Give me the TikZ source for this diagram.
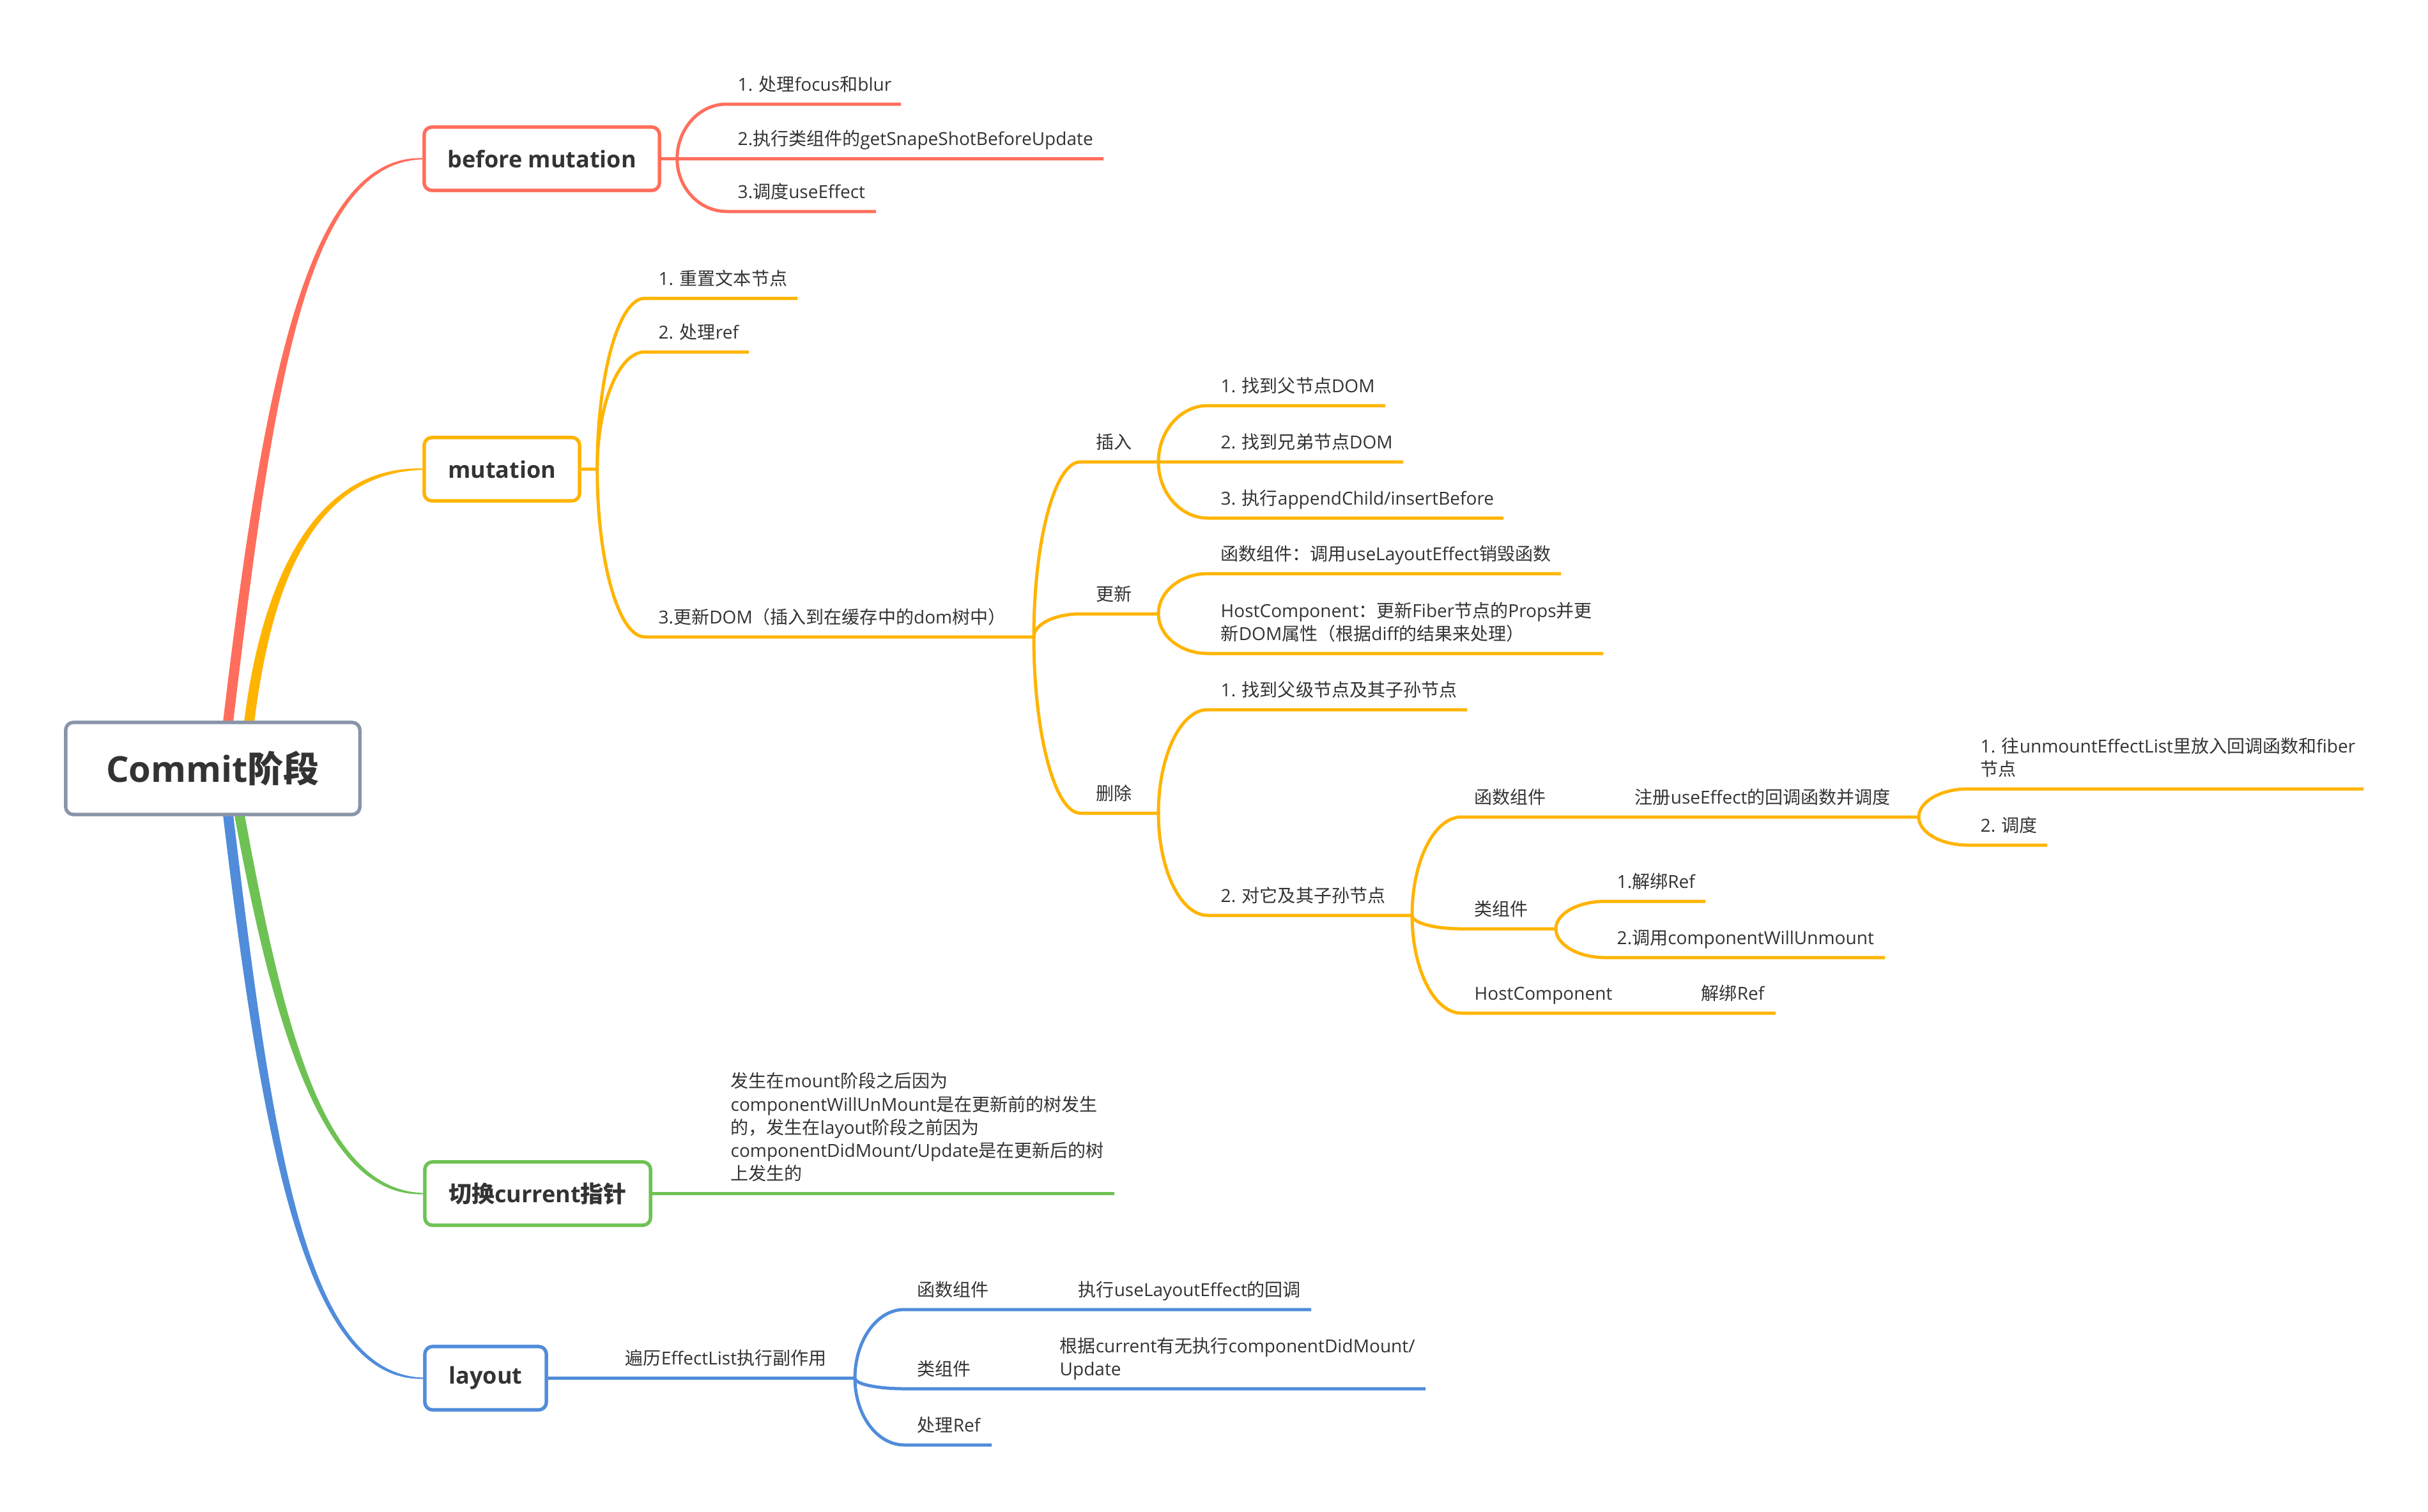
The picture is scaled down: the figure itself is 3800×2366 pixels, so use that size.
\documentclass[tikz,border=0pt]{standalone}
\usepackage{fontspec}
\setmainfont{Open Sans}
\newfontfamily\cjk{Noto Sans CJK SC}
\usetikzlibrary{calc}
\definecolor{cred}{RGB}{255,110,92}
\definecolor{corg}{RGB}{255,180,0}
\definecolor{cgrn}{RGB}{110,194,84}
\definecolor{cblu}{RGB}{80,140,218}
\definecolor{cgry}{RGB}{136,148,168}
\definecolor{ctxt}{RGB}{51,51,51}
\newcommand\z[1]{{\cjk #1}}
\tikzset{
  lbl/.style={anchor=base west, inner sep=0pt, text=ctxt, font=\fontsize{7.97pt}{10.24pt}\selectfont},
  mbox/.style={draw, line width=1.5pt, rounded corners=0.12cm, fill=white, minimum height=0.99cm, inner sep=0pt, text=ctxt, font=\fontsize{10.24pt}{12pt}\selectfont\bfseries},
  br/.style={line width=1.42pt}
}
% branch: color, fork, left end of underline, right end of underline
\newcommand\brch[4]{\draw[br,#1] (#2) .. controls ($(#2)!0.55!(#2|-#3)$) and ($(#3)!0.55!(#2|-#3)$) .. (#3) -- (#4);}
% tapered main connectors: color, start, c1, c2, end
\newcommand\taperup[5]{\fill[#1] ($(#2)+(-8,0)$) .. controls ($(#3)+(-8,0)$) and ($(#4)+(0,-6)$) .. ($(#5)+(0,-1)$) -- ($(#5)+(0,1)$) .. controls ($(#4)+(0,6)$) and ($(#3)+(8,0)$) .. ($(#2)+(8,0)$) -- cycle;}
\newcommand\taperdown[5]{\fill[#1] ($(#2)+(-8,0)$) .. controls ($(#3)+(-8,0)$) and ($(#4)+(0,6)$) .. ($(#5)+(0,1)$) -- ($(#5)+(0,-1)$) .. controls ($(#4)+(0,-6)$) and ($(#3)+(8,0)$) .. ($(#2)+(8,0)$) -- cycle;}
\begin{document}
\begin{tikzpicture}[x=0.01cm,y=-0.01cm]
\useasboundingbox (0,0) rectangle (3800,2366);
\fill[white] (0,0) rectangle (3800,2366);

% level-1 box positions (defined first for anchors)
\path (333,1203) node[mbox, draw=cgry, minimum width=4.6cm, minimum height=1.44cm, font=\fontsize{15.93pt}{18pt}\selectfont\bfseries] (commit) {Commit\z{阶段}};
\path (848,248.5) node[mbox, draw=cred, minimum width=3.68cm] (bm) {before mutation};
\path (785.5,734.5) node[mbox, draw=corg, minimum width=2.43cm] (mut) {mutation};
\path (841.5,1868.5) node[mbox, draw=cgrn, minimum width=3.53cm] (sw) {\z{切换}current\z{指针}};
\path (760,2157.5) node[mbox, draw=cblu, minimum width=1.90cm] (lay) {layout};

% main tapered connectors
\coordinate (r0) at ($(commit.north west)+(257,0)$);
\coordinate (o0) at ($(commit.north west)+(290,0)$);
\coordinate (g0) at ($(commit.south west)+(275,0)$);
\coordinate (b0) at ($(commit.south west)+(257,0)$);
\coordinate (r1) at (420,600);  \coordinate (r2) at (480,248.5);
\coordinate (o1) at (420,893);  \coordinate (o2) at (500,734.5);
\coordinate (g1) at (440,1630); \coordinate (g2) at (510,1868.5);
\coordinate (b1) at (420,1804); \coordinate (b2) at (480,2157.5);
\taperup{cred}{r0}{r1}{r2}{bm.west}
\taperup{corg}{o0}{o1}{o2}{mut.west}
\taperdown{cblu}{b0}{b1}{b2}{lay.west}
\taperdown{cgrn}{g0}{g1}{g2}{sw.west}

% redraw boxes on top
\path (333,1203) node[mbox, draw=cgry, minimum width=4.6cm, minimum height=1.44cm, font=\fontsize{15.93pt}{18pt}\selectfont\bfseries] (commit) {Commit\z{阶段}};
\path (848,248.5) node[mbox, draw=cred, minimum width=3.68cm] (bm) {before mutation};
\path (785.5,734.5) node[mbox, draw=corg, minimum width=2.43cm] (mut) {mutation};
\path (841.5,1868.5) node[mbox, draw=cgrn, minimum width=3.53cm] (sw) {\z{切换}current\z{指针}};
\path (760,2157.5) node[mbox, draw=cblu, minimum width=1.90cm] (lay) {layout};

% ---------------- before mutation
\coordinate (bmF) at ($(bm.east)+(25,0)$);
\coordinate (bm1L) at (1137,163);   \coordinate (bm1R) at (1410,163);
\coordinate (bm2L) at (1137,248.5); \coordinate (bm2R) at (1727,248.5);
\coordinate (bm3L) at (1137,331);   \coordinate (bm3R) at (1371,331);
\draw[br,cred] (bm.east) -- (bmF);
\brch{cred}{bmF}{bm1L}{bm1R}
\brch{cred}{bmF}{bm2L}{bm2R}
\brch{cred}{bmF}{bm3L}{bm3R}
\node[lbl] (tbm1) at (1154,142) {1. \z{处理}focus\z{和}blur};
\node[lbl] (tbm2) at (1154,227.5) {2.\z{执行类组件的}getSnapeShotBeforeUpdate};
\node[lbl] (tbm3) at (1154,310) {3.\z{调度}useEffect};

% ---------------- mutation
\coordinate (mutF) at ($(mut.east)+(25,0)$);
\coordinate (m1L) at (1009,467) ; \coordinate (m1R) at (1248,467);
\coordinate (m2L) at (1009,551) ; \coordinate (m2R) at (1172,551);
\coordinate (m3L) at (1009,997) ; \coordinate (m3R) at (1618,997);
\draw[br,corg] (mut.east) -- (mutF);
\brch{corg}{mutF}{m1L}{m1R}
\brch{corg}{mutF}{m2L}{m2R}
\brch{corg}{mutF}{m3L}{m3R}
\node[lbl] (tm1) at (1030,446) {1. \z{重置文本节点}};
\node[lbl] (tm2) at (1030,530) {2. \z{处理}ref};
\node[lbl] (tm3) at (1030,976) {3.\z{更新}DOM\z{（插入到在缓存中的}dom\z{树中）}};

\coordinate (insL) at (1691,723);  \coordinate (insR) at (1813,723);
\coordinate (updL) at (1691,961);  \coordinate (updR) at (1813,961);
\coordinate (delL) at (1691,1273); \coordinate (delR) at (1813,1273);
\brch{corg}{m3R}{insL}{insR}
\brch{corg}{m3R}{updL}{updR}
\brch{corg}{m3R}{delL}{delR}
\node[lbl] (tins) at (1715,702) {\z{插入}};
\node[lbl] (tupd) at (1715,940) {\z{更新}};
\node[lbl] (tdel) at (1715,1252) {\z{删除}};

% insert children
\coordinate (i1L) at (1890,635); \coordinate (i1R) at (2168,635);
\coordinate (i2L) at (1890,723); \coordinate (i2R) at (2196,723);
\coordinate (i3L) at (1890,811); \coordinate (i3R) at (2353,811);
\brch{corg}{insR}{i1L}{i1R}
\brch{corg}{insR}{i2L}{i2R}
\brch{corg}{insR}{i3L}{i3R}
\node[lbl] (ti1) at (1910,614) {1. \z{找到父节点}DOM};
\node[lbl] (ti2) at (1910,702) {2. \z{找到兄弟节点}DOM};
\node[lbl] (ti3) at (1910,790) {3. \z{执行}appendChild/insertBefore};

% update children
\coordinate (u1L) at (1890,898);  \coordinate (u1R) at (2443,898);
\coordinate (u2L) at (1890,1023); \coordinate (u2R) at (2509,1023);
\brch{corg}{updR}{u1L}{u1R}
\brch{corg}{updR}{u2L}{u2R}
\node[lbl] (tu1) at (1910,877) {\z{函数组件：调用}useLayoutEffect\z{销毁函数}};
\node[lbl] (tu2) at (1910,1002) {\begin{tabular}[b]{@{}l@{}}HostComponent\z{：更新}Fiber\z{节点的}Props\z{并更}\\\z{新}DOM\z{属性（根据}diff\z{的结果来处理）}\end{tabular}};

% delete children
\coordinate (d1L) at (1890,1111); \coordinate (d1R) at (2296,1111);
\coordinate (d2L) at (1890,1433); \coordinate (d2R) at (2210,1433);
\brch{corg}{delR}{d1L}{d1R}
\brch{corg}{delR}{d2L}{d2R}
\node[lbl] (td1) at (1910,1090) {1. \z{找到父级节点及其子孙节点}};
\node[lbl] (td2) at (1910,1412) {2. \z{对它及其子孙节点}};

\coordinate (fL) at (2287,1279); \coordinate (fR) at (3003,1279);
\coordinate (kL) at (2287,1454); \coordinate (kR) at (2435,1454);
\coordinate (hL) at (2287,1586); \coordinate (hR) at (2779,1586);
\brch{corg}{d2R}{fL}{fR}
\brch{corg}{d2R}{kL}{kR}
\brch{corg}{d2R}{hL}{hR}
\node[lbl] (tf) at (2307,1258) {\z{函数组件}};
\node[lbl] (tfr) at (2558,1258) {\z{注册}useEffect\z{的回调函数并调度}};
\node[lbl] (tk) at (2307,1433) {\z{类组件}};
\node[lbl] (th) at (2307,1565) {HostComponent};
\node[lbl] (thr) at (2662,1565) {\z{解绑}Ref};

\coordinate (k1L) at (2512,1411); \coordinate (k1R) at (2669,1411);
\coordinate (k2L) at (2512,1499); \coordinate (k2R) at (2950,1499);
\brch{corg}{kR}{k1L}{k1R}
\brch{corg}{kR}{k2L}{k2R}
\node[lbl] (tk1) at (2530,1390) {1.\z{解绑}Ref};
\node[lbl] (tk2) at (2530,1478) {2.\z{调用}componentWillUnmount};

\coordinate (f1L) at (3080,1235); \coordinate (f1R) at (3699,1235);
\coordinate (f2L) at (3080,1323); \coordinate (f2R) at (3204,1323);
\brch{corg}{fR}{f1L}{f1R}
\brch{corg}{fR}{f2L}{f2R}
\node[lbl] (tf1) at (3099,1214) {\begin{tabular}[b]{@{}l@{}}1. \z{往}unmountEffectList\z{里放入回调函数和}fiber\\\z{节点}\end{tabular}};
\node[lbl] (tf2) at (3099,1302) {2. \z{调度}};

% ---------------- switch current
\coordinate (swR) at (1744,1868.5);
\draw[br,cgrn] (sw.east) -- (swR);
\node[lbl] (tsw) at (1143,1847) {\begin{tabular}[b]{@{}l@{}}\z{发生在}mount\z{阶段之后因为}\\componentWillUnMount\z{是在更新前的树发生}\\\z{的，发生在}layout\z{阶段之前因为}\\componentDidMount/Update\z{是在更新后的树}\\\z{上发生的}\end{tabular}};

% ---------------- layout
\coordinate (layF) at (1338,2157.5);
\draw[br,cblu] (lay.east) -- (layF);
\node[lbl] (tlay) at (978,2136) {\z{遍历}EffectList\z{执行副作用}};
\coordinate (lfL) at (1415,2050); \coordinate (lfR) at (2052,2050);
\coordinate (lkL) at (1415,2174); \coordinate (lkR) at (2231,2174);
\coordinate (lrL) at (1415,2262); \coordinate (lrR) at (1552,2262);
\brch{cblu}{layF}{lfL}{lfR}
\brch{cblu}{layF}{lkL}{lkR}
\brch{cblu}{layF}{lrL}{lrR}
\node[lbl] (tlf) at (1435,2029) {\z{函数组件}};
\node[lbl] (tlfr) at (1687,2029) {\z{执行}useLayoutEffect\z{的回调}};
\node[lbl] (tlk) at (1435,2153) {\z{类组件}};
\node[lbl] (tlkr) at (1658,2153) {\begin{tabular}[b]{@{}l@{}}\z{根据}current\z{有无执行}componentDidMount/\\Update\end{tabular}};
\node[lbl] (tlr) at (1435,2241) {\z{处理}Ref};
\end{tikzpicture}
\end{document}
